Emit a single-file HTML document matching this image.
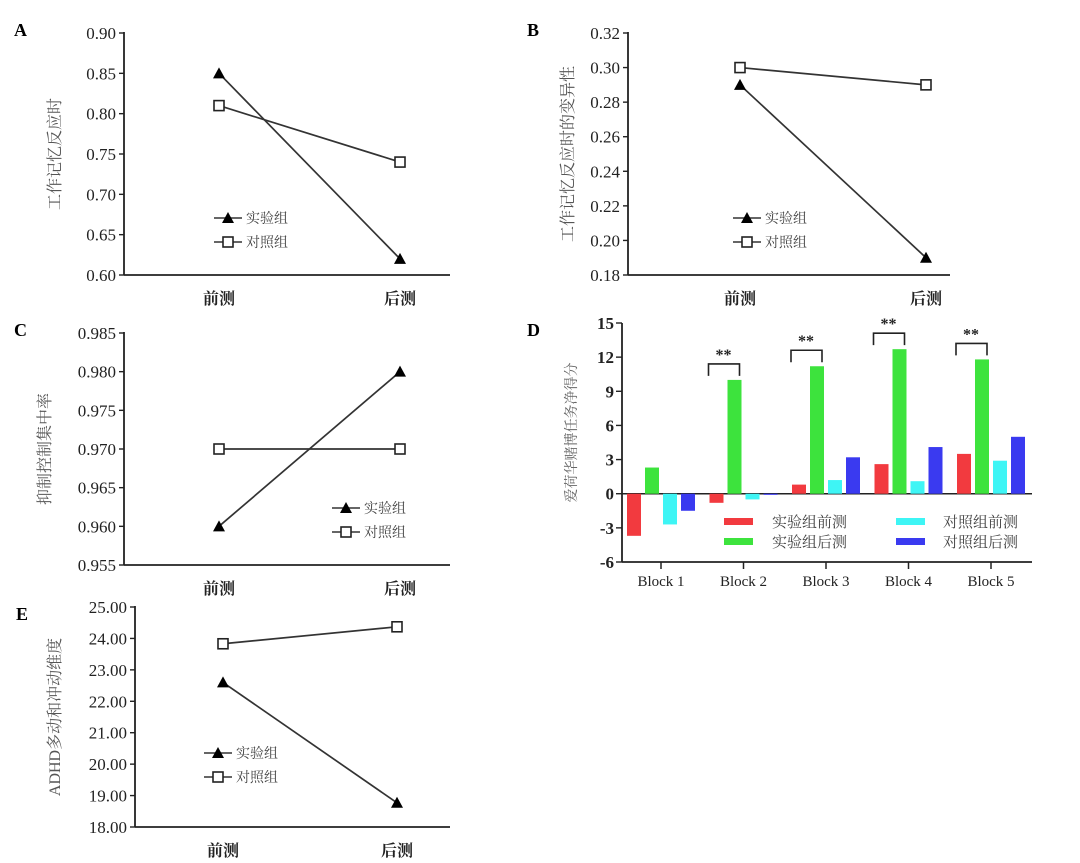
<!DOCTYPE html>
<html><head><meta charset="utf-8"><style>
body{margin:0;background:#fff;}
svg{display:block;font-family:"Liberation Serif","Noto Serif CJK SC",serif;}
</style></head><body>
<svg id="c" width="1080" height="863"></svg>
<script>
const NS="http://www.w3.org/2000/svg";
const svg=document.getElementById('c');
function el(t,a,p){const e=document.createElementNS(NS,t);for(const k in a)e.setAttribute(k,a[k]);(p||svg).appendChild(e);return e;}
function tx(x,y,s,a,p){const e=el('text',Object.assign({x:x,y:y,'font-size':14,fill:'#222'},a||{}),p);e.textContent=s;return e;}

// Data
const phases=['前测','后测'];
const aTicks=[0.60,0.65,0.70,0.75,0.80,0.85,0.90];
const aExp=[0.85,0.62], aCtl=[0.81,0.74];
const bTicks=[0.18,0.20,0.22,0.24,0.26,0.28,0.30,0.32];
const bExp=[0.29,0.19], bCtl=[0.30,0.29];
const cTicks=[0.955,0.960,0.965,0.970,0.975,0.980,0.985];
const cExp=[0.960,0.980], cCtl=[0.970,0.970];
const eTicks=[18,19,20,21,22,23,24,25];
const eExp=[22.6,18.77], eCtl=[23.83,24.37];
const blocks=['Block 1','Block 2','Block 3','Block 4','Block 5'];
const dTicks=[-6,-3,0,3,6,9,12,15];
const dExpPre=[-3.7,-0.8,0.8,2.6,3.5];
const dExpPost=[2.3,10.0,11.2,12.7,11.8];
const dCtlPre=[-2.7,-0.5,1.2,1.1,2.9];
const dCtlPost=[-1.5,-0.1,3.2,4.1,5.0];
const dSig=[false,true,true,true,true];

function tri(g,x,y){const p=el('polygon',{points:`${x},${y-6} ${x-6},${y+5} ${x+6},${y+5}`,fill:'#000'},g);return p;}
function sq(g,x,y){return el('rect',{x:x-5,y:y-5,width:10,height:10,fill:'#fff',stroke:'#222','stroke-width':1.6},g);}

function linePanel(o){
  const g=el('g',{});
  const lo=o.ticks[0],hi=o.ticks[o.ticks.length-1];
  const Y=v=>o.y1+(v-lo)/(hi-lo)*(o.y0-o.y1);
  const X=i=>o.px[i];
  tx(o.lx,o.ly,o.letter,{'font-size':18,'font-weight':'bold',fill:'#000'},g);
  el('line',{x1:o.ax,y1:o.y0-1,x2:o.ax,y2:o.y1,stroke:'#222','stroke-width':1.8},g);
  el('line',{x1:o.ax,y1:o.y1,x2:o.axEnd,y2:o.y1,stroke:'#222','stroke-width':1.8},g);
  o.ticks.forEach(t=>{const y=Y(t);el('line',{x1:o.ax-5,y1:y,x2:o.ax,y2:y,stroke:'#222','stroke-width':1.4},g);
    tx(o.ax-8,y+6,t.toFixed(o.dec),{'text-anchor':'end','font-size':17},g);});
  phases.forEach((p,i)=>tx(X(i),o.y1+29,p,{'text-anchor':'middle','font-size':16,'font-weight':'bold'},g));
  const yt=el('text',{x:0,y:0,'font-size':16,fill:'#555','text-anchor':'middle',transform:`translate(${o.titleX},${(o.y0+o.y1)/2}) rotate(-90)`},g);yt.textContent=o.title;
  
  el('polyline',{points:o.ctl.map((v,i)=>X(i)+','+Y(v)).join(' '),fill:'none',stroke:'#333','stroke-width':1.7},g);
  el('polyline',{points:o.exp.map((v,i)=>X(i)+','+Y(v)).join(' '),fill:'none',stroke:'#333','stroke-width':1.7},g);
  o.exp.forEach((v,i)=>{const m=tri(g,X(i),Y(v));});
  o.ctl.forEach((v,i)=>{const m=sq(g,X(i),Y(v));});
  const lg=el('g',{},g);
  el('line',{x1:o.legX,y1:o.legY,x2:o.legX+28,y2:o.legY,stroke:'#333','stroke-width':1.6},lg);tri(lg,o.legX+14,o.legY);
  tx(o.legX+32,o.legY+5,'实验组',{'font-size':14,fill:'#444'},lg);
  el('line',{x1:o.legX,y1:o.legY+24,x2:o.legX+28,y2:o.legY+24,stroke:'#333','stroke-width':1.6},lg);sq(lg,o.legX+14,o.legY+24);
  tx(o.legX+32,o.legY+29,'对照组',{'font-size':14,fill:'#444'},lg);
}
linePanel({name:'panel-a',letter:'A',lx:14,ly:36,ax:124,axEnd:450,y0:33,y1:275,ticks:aTicks,dec:2,px:[219,400],exp:aExp,ctl:aCtl,title:'工作记忆反应时',titleX:60,legX:214,legY:218});
linePanel({name:'panel-b',letter:'B',lx:527,ly:36,ax:628,axEnd:950,y0:33,y1:275,ticks:bTicks,dec:2,px:[740,926],exp:bExp,ctl:bCtl,title:'工作记忆反应时的变异性',titleX:573,legX:733,legY:218});
linePanel({name:'panel-c',letter:'C',lx:14,ly:336,ax:124,axEnd:450,y0:333,y1:565,ticks:cTicks,dec:3,px:[219,400],exp:cExp,ctl:cCtl,title:'抑制控制集中率',titleX:50,legX:332,legY:508});
linePanel({name:'panel-e',letter:'E',lx:16,ly:620,ax:135,axEnd:450,y0:607,y1:827,ticks:eTicks,dec:2,px:[223,397],exp:eExp,ctl:eCtl,title:'ADHD多动和冲动维度',titleX:60,legX:204,legY:753});

// Panel D
(function(){
  const g=el('g',{});
  const ax=622,axEnd=1032,yTop=323,yBot=562;
  const Y=v=>yBot-(v+6)/21*(yBot-yTop);
  const X=i=>661+i*82.5;
  tx(527,336,'D',{'font-size':18,'font-weight':'bold',fill:'#000'},g);
  el('line',{x1:ax,y1:yTop,x2:ax,y2:yBot,stroke:'#222','stroke-width':1.8},g);
  el('line',{x1:ax,y1:yBot,x2:axEnd,y2:yBot,stroke:'#222','stroke-width':1.8},g);
  el('line',{x1:ax,y1:Y(0),x2:axEnd,y2:Y(0),stroke:'#222','stroke-width':1.5},g);
  dTicks.forEach(t=>{const y=Y(t);el('line',{x1:ax-6,y1:y,x2:ax,y2:y,stroke:'#222','stroke-width':1.4},g);
    tx(ax-8,y+6,String(t),{'text-anchor':'end','font-size':17,'font-weight':'bold'},g);});
  const yt=el('text',{'font-size':14,fill:'#666','text-anchor':'middle',transform:`translate(576,${(yTop+yBot)/2-10}) rotate(-90)`},g);yt.textContent='爱荷华赌博任务净得分';
  
  const series=[[dExpPre,'#f23a3f'],[dExpPost,'#3de33d'],[dCtlPre,'#3ef5f5'],[dCtlPost,'#3a3af0']];
  const offs=[-27,-9,9,27];
  blocks.forEach((b,i)=>{
    el('line',{x1:X(i),y1:yBot,x2:X(i),y2:yBot+7,stroke:'#222','stroke-width':1.5},g);
    tx(X(i),yBot+24,b,{'text-anchor':'middle','font-size':15},g);
    series.forEach((s,k)=>{const v=s[0][i];const y0=Y(0),y=Y(v);
      const r=el('rect',{x:X(i)+offs[k]-7,y:Math.min(y,y0),width:14,height:Math.max(Math.abs(y-y0),0.8),fill:s[1]},g);
      });
    if(dSig[i]){const top=Y(dExpPost[i])-16;
      el('polyline',{points:`${X(i)-35},${top+12} ${X(i)-35},${top} ${X(i)-4},${top} ${X(i)-4},${top+12}`,fill:'none',stroke:'#222','stroke-width':1.6},g);
      tx(X(i)-20,top-4,'**',{'text-anchor':'middle','font-size':16,'font-weight':'bold'},g);}
  });
  const lg=el('g',{},g);
  const L=[['实验组前测','#f23a3f',724,522],['实验组后测','#3de33d',724,542],['对照组前测','#3ef5f5',896,522],['对照组后测','#3a3af0',896,542]];
  L.forEach(l=>{el('rect',{x:l[2],y:l[3]-4,width:29,height:7,fill:l[1]},lg);tx(l[2]+(l[2]>800?47:48),l[3]+5,l[0],{'font-size':15,fill:'#444'},lg);});
})();
</script>
</body></html>
